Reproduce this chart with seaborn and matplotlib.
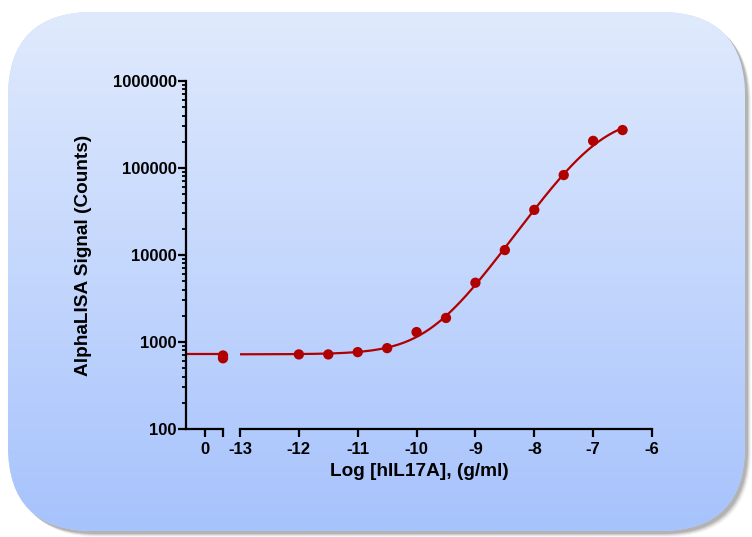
import numpy as np
import pandas as pd
import matplotlib
matplotlib.use("Agg")
import matplotlib.pyplot as plt
import seaborn as sns
from matplotlib.patches import FancyBboxPatch
from matplotlib.ticker import FixedLocator, LogLocator, NullFormatter, FuncFormatter

# data
zero_x = [1, 1]                 # the "0" dose, drawn at the end of the left axis piece
zero_signal = [700, 650]
log_conc = [-12, -11.5, -11, -10.5, -10, -9.5, -9, -8.5, -8, -7.5, -7, -6.5]
signal = [720, 720, 765, 850, 1300, 1890, 4800, 11400, 33000, 83000, 205000, 273000]
y_ticks = [100, 1000, 10000, 100000, 1000000]
x_ticks = [-13, -12, -11, -10, -9, -8, -7, -6]

red = "#b00000"

sns.set_style("ticks")
plt.rcParams["font.family"] = ["Liberation Sans", "DejaVu Sans"]
plt.rcParams["font.weight"] = "bold"
plt.rcParams["text.color"] = "black"


def fourpl(x, bottom, top, logec50, hill):
    return bottom + (top - bottom) / (1 + 10 ** ((logec50 - x) * hill))


# 4PL fit (grid over ec50/hill, bottom/top by weighted least squares)
xs = np.array(log_conc, float)
ys = np.array(signal, float)
best = None
for ec in np.arange(-9.5, -6.0, 0.01):
    for h in np.arange(0.5, 1.6, 0.01):
        f = 1 / (1 + 10 ** ((ec - xs) * h))
        A = np.column_stack([1 - f, f]) / ys[:, None]
        coef, *_ = np.linalg.lstsq(A, np.ones_like(ys), rcond=None)
        r = np.sum((A @ coef - 1) ** 2)
        if best is None or r < best[0]:
            best = (r, coef[0], coef[1], ec, h)
_, bottom, top, ec50, hill = best

curve_x = np.linspace(-13, -6.5, 300)
curve = pd.DataFrame({"x": curve_x, "y": fourpl(curve_x, bottom, top, ec50, hill)})
base = pd.DataFrame({"x": [-1, 1.2], "y": [bottom, bottom]})
pts = pd.DataFrame({"x": log_conc, "y": signal})
pts0 = pd.DataFrame({"x": zero_x, "y": zero_signal})

W, H = 752, 537
fig = plt.figure(figsize=(W / 100, H / 100), dpi=100)
fig.patch.set_facecolor("white")

# rounded gradient panel with soft shadow
bg = fig.add_axes([0, 0, 1, 1], zorder=-10)
bg.set_xlim(0, W)
bg.set_ylim(H, 0)
bg.axis("off")
x0, y0, x1, y1, rad = 8, 12, 745, 531, 85
for off, a in [(6, 0.06), (5, 0.10), (4, 0.15), (3, 0.22)]:
    sh = FancyBboxPatch((x0 + off, y0 + off), x1 - x0, y1 - y0,
                        boxstyle=f"round,pad=0,rounding_size={rad}",
                        fc="#555555", ec="none", alpha=a, zorder=1)
    bg.add_patch(sh)
panel = FancyBboxPatch((x0, y0), x1 - x0, y1 - y0,
                       boxstyle=f"round,pad=0,rounding_size={rad}",
                       fc="#c5d7fc", ec="none", zorder=2)
bg.add_patch(panel)
top_c = np.array([224, 234, 253]) / 255
bot_c = np.array([167, 195, 252]) / 255
t = np.linspace(0, 1, 256)[:, None]
grad = (top_c * (1 - t) + bot_c * t)[:, None, :]
im = bg.imshow(grad, extent=[x0, x1, y1, y0], aspect="auto", zorder=3)
im.set_clip_path(panel)

# axes pieces
ax0 = fig.add_axes([186 / W, 1 - 429 / H, 37 / W, 348 / H])
ax1 = fig.add_axes([240 / W, 1 - 429 / H, 412 / W, 348 / H])
for ax in (ax0, ax1):
    ax.set_facecolor("none")
    ax.set_yscale("log")
    ax.set_ylim(100, 1000000)
    for s in ("top", "right"):
        ax.spines[s].set_visible(False)
    for s in ("left", "bottom"):
        ax.spines[s].set_linewidth(1.6)
        ax.spines[s].set_color("black")
    ax.tick_params(which="major", direction="out", width=1.6, length=5.5,
                   labelsize=12, pad=4, colors="black")
    ax.tick_params(which="minor", direction="out", width=1.3, length=3, colors="black")
    ax.tick_params(axis="y", which="major", pad=1)

sns.lineplot(data=base, x="x", y="y", ax=ax0, color=red, lw=1.6)
sns.scatterplot(data=pts0, x="x", y="y", ax=ax0, color=red, s=55,
                edgecolor="none", clip_on=False, zorder=5)
ax0.set_xlim(-1, 1)
ax0.set_xticks([0, 1])
ax0.set_xticklabels(["0", ""])
ax0.yaxis.set_major_locator(FixedLocator(y_ticks))
ax0.yaxis.set_major_formatter(FuncFormatter(lambda v, p: f"{int(round(v))}"))
ax0.yaxis.set_minor_locator(LogLocator(base=10, subs=np.arange(2, 10)))
ax0.yaxis.set_minor_formatter(NullFormatter())
ax0.set_xlabel("")
ax0.set_ylabel("")

sns.lineplot(data=curve, x="x", y="y", ax=ax1, color=red, lw=1.6)
sns.scatterplot(data=pts, x="x", y="y", ax=ax1, color=red, s=55,
                edgecolor="none", clip_on=False, zorder=5)
ax1.set_xlim(-13, -6)
ax1.set_xticks(x_ticks)
ax1.set_xticklabels([str(v) for v in x_ticks])
ax1.spines["left"].set_visible(False)
ax1.tick_params(axis="y", which="both", left=False, labelleft=False)
ax1.set_xlabel("")
ax1.set_ylabel("")

for ax in (ax0, ax1):
    for lab in ax.get_xticklabels() + ax.get_yticklabels():
        lab.set_fontweight("bold")

fig.text(419 / W, 1 - 472 / H, "Log [hIL17A], (g/ml)", ha="center", va="center",
         fontsize=13.7, fontweight="bold", color="black")
fig.text(83 / W, 1 - 255 / H, "AlphaLISA Signal (Counts)", ha="center", va="center",
         rotation=90, fontsize=13.7, fontweight="bold", color="black")

fig.savefig("out.png", dpi=100)
